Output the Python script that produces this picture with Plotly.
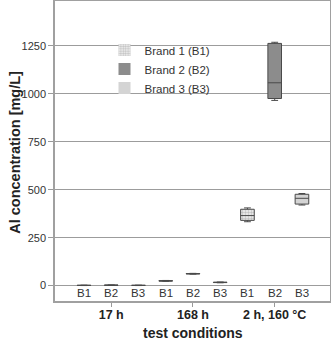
import plotly.graph_objects as go

# ---- data ----
positions = [0, 1, 2, 3, 4, 5, 6, 7, 8]
brands = ["B1", "B2", "B3", "B1", "B2", "B3", "B1", "B2", "B3"]
group_labels = ["17 h", "168 h", "2 h, 160 °C"]
group_pos = [1, 4, 7]
lower = [0.5, 1.5, 0.5, 23, 60, 15, 333, 965, 420]
q1 = [1.0, 2.0, 1.0, 24, 61, 16, 340, 975, 425]
median = [1.5, 2.5, 1.5, 25, 62, 17, 365, 1057, 455]
q3 = [2.0, 3.0, 2.0, 26, 63, 18, 398, 1262, 476]
upper = [2.5, 3.5, 2.5, 27, 64, 19, 405, 1268, 480]
legend_names = {"B1": "Brand 1 (B1)", "B2": "Brand 2 (B2)", "B3": "Brand 3 (B3)"}
x_title = "test conditions"
y_title = "Al concentration [mg/L]"

FONT = "Liberation Sans, Arial, sans-serif"
fills = {"B1": "#efefef", "B2": "#8c8c8c", "B3": "#d4d4d4"}

fig = go.Figure()

# box fills as bars (gives legend swatches and pattern for Brand 1)
for b in ["B1", "B2", "B3"]:
    idx = [i for i, v in enumerate(brands) if v == b]
    marker = dict(color=fills[b], line=dict(width=0))
    if b == "B1":
        marker["pattern"] = dict(shape=".", size=3, solidity=0.5,
                                 fgcolor="#8f8f8f", bgcolor="#f2f2f2",
                                 fillmode="overlay")
    fig.add_trace(go.Bar(
        x=[positions[i] for i in idx],
        y=[q3[i] - q1[i] for i in idx],
        base=[q1[i] for i in idx],
        width=0.5,
        marker=marker,
        name=legend_names[b],
        hoverinfo="skip",
    ))

# box outlines, medians, whiskers
for i in range(len(positions)):
    fig.add_trace(go.Box(
        x=[positions[i]],
        q1=[q1[i]], median=[median[i]], q3=[q3[i]],
        lowerfence=[lower[i]], upperfence=[upper[i]],
        width=0.5,
        whiskerwidth=0.5,
        fillcolor="rgba(0,0,0,0)",
        line=dict(color="#4a4a4a", width=1),
        showlegend=False,
        boxpoints=False,
    ))

# category labels inside the frame
for p, b in zip(positions, brands):
    fig.add_annotation(x=p, y=0.028, xref="x", yref="paper", text=b,
                       showarrow=False, font=dict(family=FONT, size=11.5, color="#333"),
                       xanchor="center", yanchor="middle")

# axis titles
fig.add_annotation(x=0.5, xref="paper", y=-0.107, yref="paper",
                   xanchor="center", yanchor="middle",
                   text="<b>" + x_title + "</b>", showarrow=False,
                   font=dict(family=FONT, size=14, color="#222"))
fig.add_annotation(x=-0.148, xref="paper", y=0.495, yref="paper",
                   xanchor="center", yanchor="middle", textangle=-90,
                   text="<b>" + y_title + "</b>", showarrow=False,
                   font=dict(family=FONT, size=14.5, color="#222"))

fig.update_layout(
    width=331, height=342,
    margin=dict(l=55, r=1, t=1, b=41, autoexpand=False),
    paper_bgcolor="white", plot_bgcolor="white",
    barmode="overlay", boxmode="overlay",
    font=dict(family=FONT, color="#222"),
    legend=dict(x=0.18, y=0.885, xanchor="left", yanchor="top",
                bgcolor="rgba(0,0,0,0)", font=dict(family=FONT, size=11.5, color="#333"),
                itemwidth=30, tracegroupgap=0),
    xaxis=dict(
        range=[-1.064, 9.03], automargin=False,
        tickmode="array", tickvals=group_pos, ticktext=group_labels,
        ticks="outside", ticklen=4, tickcolor="#999",
        ticklabelstandoff=-3,
        tickfont=dict(family=FONT, size=12.5, color="#222", weight="bold"),
        showgrid=False, zeroline=False,
        showline=True, mirror=True, linecolor="#a0a0a0", linewidth=1.5,
    ),
    yaxis=dict(
        range=[-80, 1483], automargin=False,
        tick0=0, dtick=250,
        ticks="outside", ticklen=5, tickcolor="#999",
        tickfont=dict(family=FONT, size=11, color="#333"),
        showgrid=True, gridcolor="#9c9c9c", gridwidth=1,
        zeroline=False,
        showline=True, mirror=True, linecolor="#a0a0a0", linewidth=1.5,
    ),
)

fig.write_html("out.html",
               config={"displayModeBar": False},
               post_script="document.body.style.margin='0';document.body.style.overflow='hidden';")
